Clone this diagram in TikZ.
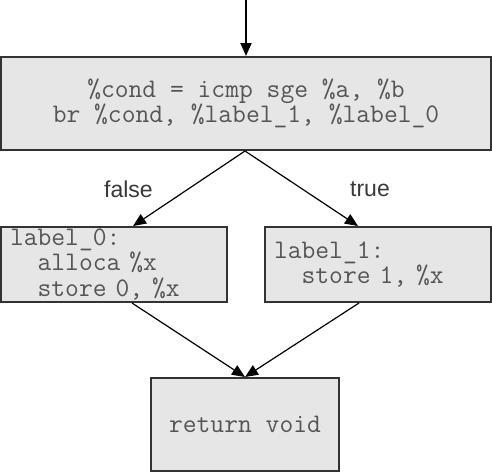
\documentclass[tikz,border=0pt]{standalone}
\usepackage{fontspec}
\newfontfamily\labfont{Liberation Sans}
\usetikzlibrary{arrows.meta}
\definecolor{boxfill}{HTML}{E6E6E6}
\definecolor{boxline}{HTML}{333333}
\definecolor{codetext}{HTML}{555555}
\definecolor{labtext}{HTML}{383838}
\begin{document}
\begin{tikzpicture}[x=1pt,y=-1pt,
  blk/.style={draw=boxline, line width=2pt, fill=boxfill, rectangle, inner sep=0pt,
    font=\ttfamily\fontsize{26.8}{25.5}\selectfont, text=codetext},
  edge/.style={draw=black, line width=1.2pt, -{Triangle[length=13pt,width=11pt]}},
  elabel/.style={font=\labfont\fontsize{23}{26}\selectfont, text=labtext, inner sep=0pt}]
\useasboundingbox (0,0) rectangle (492,474);
\node[blk, minimum width=490, minimum height=93, align=center] (top) at (246,103.5)
  {\%cond = icmp sge \%a, \%b\\br \%cond, \%label\_1, \%label\_0};
\node[blk, minimum width=226, minimum height=75, text width=208, align=left] (l) at (114,264.5)
  {label\_0:\\\hphantom{xx}alloca \%x\\\hphantom{xx}store 0, \%x};
\node[blk, minimum width=226, minimum height=75, text width=208, align=left] (r) at (378,264.5)
  {label\_1:\\\hphantom{xx}store 1, \%x};
\node[blk, minimum width=188, minimum height=93, align=center] (bot) at (245,424.5)
  {return void};
\coordinate (entry) at (246,0);
\draw[edge, line width=1.8pt] (entry) -- (top.north);
\draw[edge] ([xshift=-1]top.south) -- ([xshift=19]l.north);
\draw[edge] ([xshift=-1]top.south) -- ([xshift=-20]r.north);
\draw[edge] ([xshift=18]l.south) -- (bot.north);
\draw[edge] ([xshift=-19]r.south) -- (bot.north);
\node[elabel] (lf) at (128.5,189) {false};
\node[elabel] (lt) at (370,189) {true};
\end{tikzpicture}
\end{document}
